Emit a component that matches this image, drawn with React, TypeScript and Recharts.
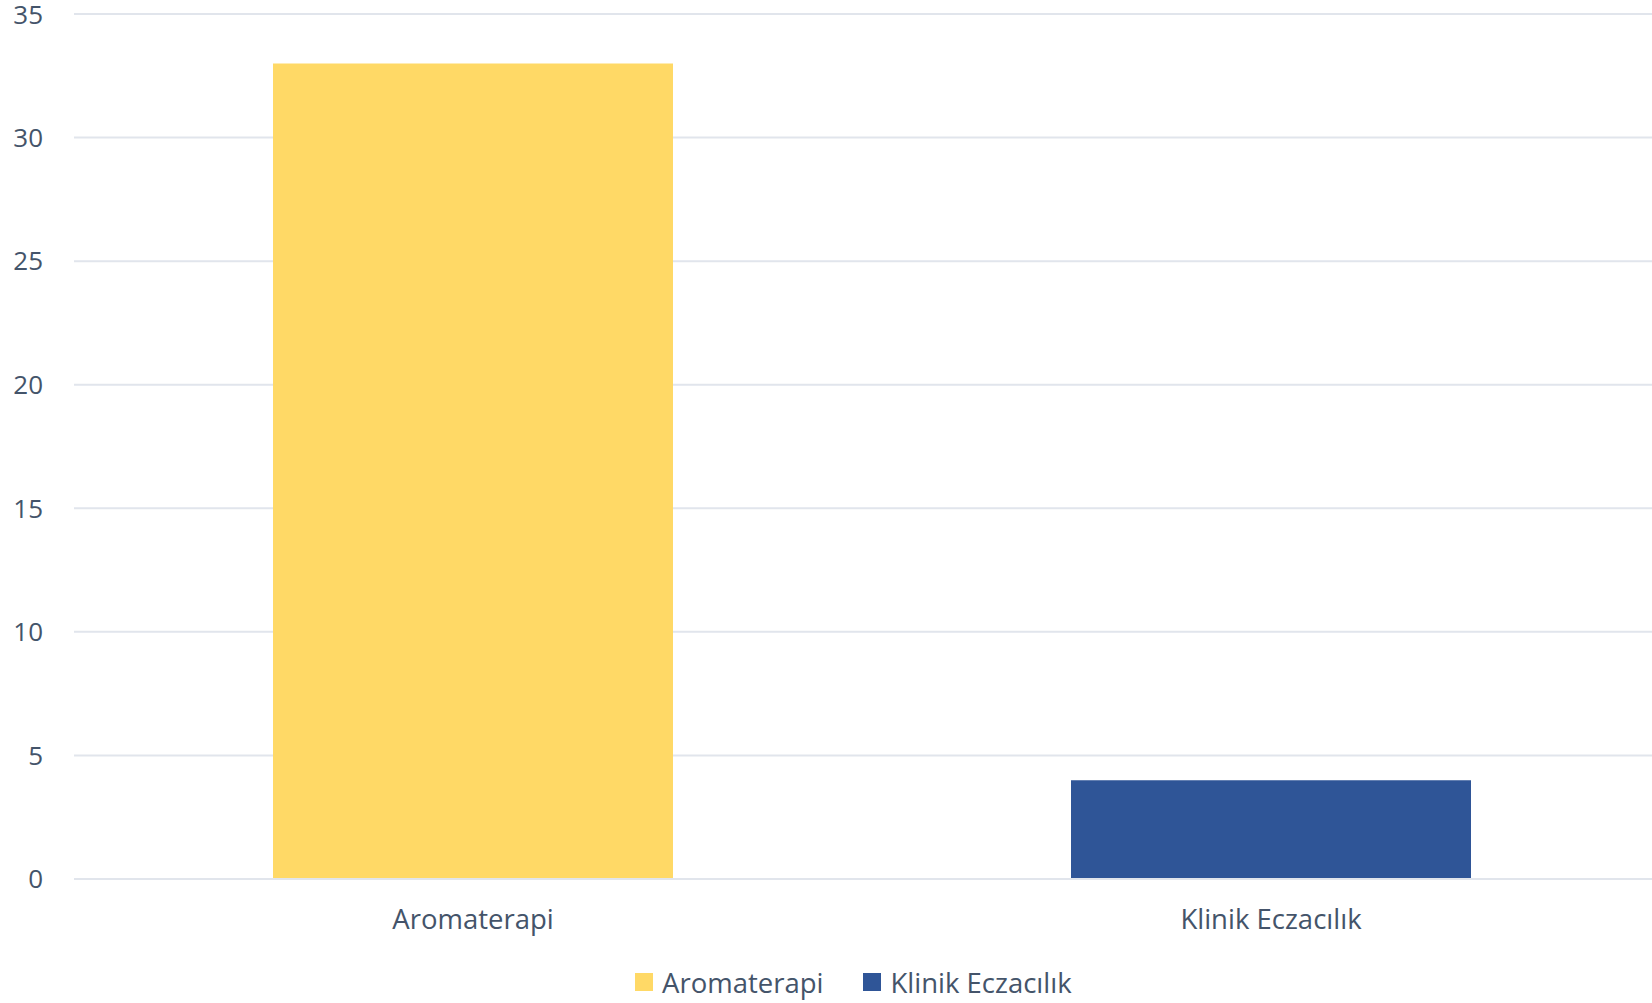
import React from 'react';
import { BarChart, Bar, XAxis, YAxis, CartesianGrid, Cell } from 'recharts';

// kategori ve değerler
const categories = ['Aromaterapi', 'Klinik Eczacılık'];
const values = [33, 4];
const barColors = ['#FFD966', '#2F5597'];
const yTicks = [0, 5, 10, 15, 20, 25, 30, 35];

const textColor = '#44546A';
const gridColor = '#E1E5EC';
const fontFamily = '"Open Sans", Lato, sans-serif';

const chartData = categories.map((name, i) => ({ name, value: values[i] }));

const App: React.FC = () => {
  return (
    <div style={{ position: 'absolute', top: 0, left: 0, width: 1652, height: 1003, overflow: 'hidden', background: '#fff' }}>
      <BarChart
        width={1670}
        height={1003}
        data={chartData}
        margin={{ top: 14, right: 0, bottom: 0, left: 0 }}
        style={{ overflow: 'visible' }}
      >
        <CartesianGrid vertical={false} stroke={gridColor} strokeWidth={2} />
        <XAxis
          dataKey="name"
          height={124}
          axisLine={{ stroke: gridColor, strokeWidth: 2 }}
          tickLine={false}
          tickSize={0}
          tickMargin={30}
          tick={{ fill: textColor, fontSize: 27.5, fontFamily }}
        />
        <YAxis
          width={74}
          domain={[0, 35]}
          ticks={yTicks}
          axisLine={false}
          tickLine={false}
          tickSize={0}
          tickMargin={31}
          tick={{ fill: textColor, fontSize: 26, fontFamily }}
        />
        <Bar dataKey="value" barSize={400} isAnimationActive={false}>
          {chartData.map((d, i) => (
            <Cell key={d.name} fill={barColors[i]} />
          ))}
        </Bar>
      </BarChart>
      {/* lejant */}
      <div
        style={{
          position: 'absolute',
          top: 963,
          left: 635,
          height: 38,
          display: 'flex',
          alignItems: 'center',
          fontFamily,
          fontSize: 27.5,
          color: textColor,
          whiteSpace: 'nowrap',
        }}
      >
        {categories.map((name, i) => (
          <div key={name} style={{ display: 'flex', alignItems: 'center', marginRight: 40 }}>
            <span style={{ width: 18, height: 18, background: barColors[i], display: 'inline-block', marginRight: 9 }} />
            <span>{name}</span>
          </div>
        ))}
      </div>
    </div>
  );
};

export default App;
